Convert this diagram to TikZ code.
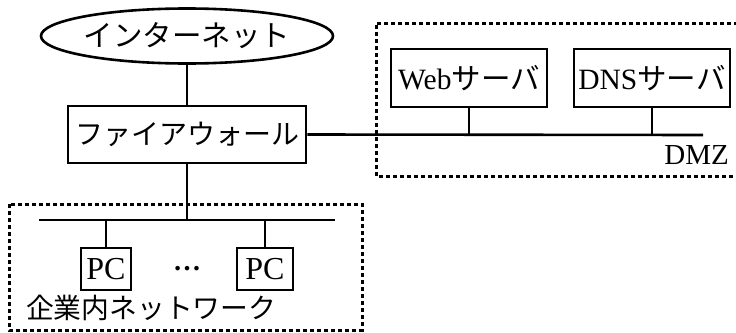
\documentclass[tikz,border=0pt]{standalone}
\usepackage{fontspec}
\setmainfont{Liberation Serif}
\newfontfamily\jp{Noto Sans CJK JP}
\usetikzlibrary{shapes.geometric}
\begin{document}
\begin{tikzpicture}[x=1pt,y=-1pt,
  box/.style={draw,line width=2.6pt,rectangle,inner sep=0pt,font=\fontsize{29.5}{30}\selectfont},
  wire/.style={line width=2.6pt},
  zone/.style={line width=3pt,dash pattern=on 4pt off 3pt}]
\useasboundingbox (0,0) rectangle (736,332);
\node[draw,line width=2.6pt,ellipse,minimum width=240pt,minimum height=55pt,inner sep=0pt,font=\fontsize{29.5}{30}\selectfont\jp] (inet) at (187,36) {インターネット};
\node[box,minimum width=238pt,minimum height=57pt,font=\fontsize{28}{30}\selectfont\jp] (fw) at (187,134.5) {ファイアウォール};
\node[box,minimum width=156pt,minimum height=58pt] (web) at (469,78) {Web{\jp サーバ}};
\node[box,minimum width=156pt,minimum height=58pt] (dns) at (652,78) {DNS{\jp サーバ}};
\node[box,minimum width=50pt,minimum height=42pt,font=\fontsize{32}{34}\selectfont] (pc1) at (106,269) {PC};
\node[box,minimum width=56pt,minimum height=42pt,font=\fontsize{32}{34}\selectfont] (pc2) at (265,269) {PC};
\node[inner sep=0pt,font=\fontsize{28}{30}\selectfont\bfseries] (dots) at (187,269) {…};
\node[anchor=east,inner sep=0pt,font=\fontsize{29}{30}\selectfont] (dmz) at (729,155) {DMZ};
\node[anchor=west,inner sep=0pt,font=\fontsize{27.8}{30}\selectfont\jp] (lan) at (26,308) {企業内ネットワーク};
% buses
\coordinate (dmzend) at (703,135);
\coordinate (lanL) at (39,220);
\coordinate (lanR) at (335,220);
\draw[wire] (inet.south) -- (fw.north);
\draw[wire] (fw.east) -- (dmzend);
\draw[wire] (web.south) -- (web.south |- dmzend);
\draw[wire] (dns.south) -- (dns.south |- dmzend);
\draw[wire] (fw.south) -- (fw.south |- lanL);
\draw[wire] (lanL) -- (lanR);
\draw[wire] (pc1.north) -- (pc1.north |- lanL);
\draw[wire] (pc2.north) -- (pc2.north |- lanL);
% zones
\draw[zone] (745,23) -- (376,23) -- (376,176) -- (745,176);
\draw[zone] (9,204) rectangle (362,330);
\end{tikzpicture}
\end{document}
